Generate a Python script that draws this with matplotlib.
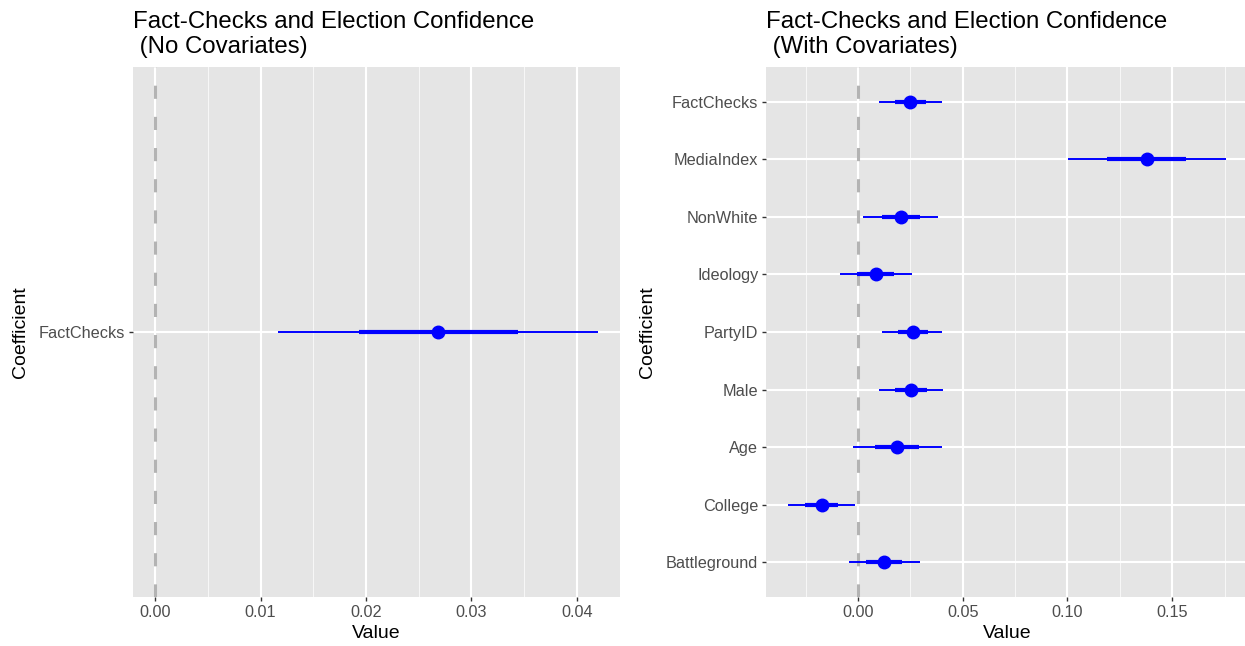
import numpy as np
import matplotlib
matplotlib.use('Agg')
import matplotlib.pyplot as plt

plt.rcParams['font.family'] = ['Liberation Sans', 'DejaVu Sans']

# Left panel: FactChecks only
names_a = ['FactChecks']
est_a = [0.0268]
inner_lo_a = [0.0193]
inner_hi_a = [0.0344]
outer_lo_a = [0.0117]
outer_hi_a = [0.0420]

# Right panel: with covariates (top to bottom)
names_b = ['FactChecks', 'MediaIndex', 'NonWhite', 'Ideology', 'PartyID',
           'Male', 'Age', 'College', 'Battleground']
est_b = [0.0250, 0.1378, 0.0205, 0.0084, 0.0261, 0.0255, 0.0186, -0.0174, 0.0124]
inner_lo_b = [0.0176, 0.1189, 0.0115, -0.0003, 0.0190, 0.0179, 0.0080, -0.0254, 0.0039]
inner_hi_b = [0.0325, 0.1567, 0.0295, 0.0171, 0.0332, 0.0331, 0.0292, -0.0094, 0.0209]
outer_lo_b = [0.0101, 0.1003, 0.0024, -0.0087, 0.0117, 0.0101, -0.0024, -0.0334, -0.0045]
outer_hi_b = [0.0401, 0.1757, 0.0384, 0.0258, 0.0401, 0.0406, 0.0399, -0.0014, 0.0296]

W, H = 1245, 646
fig = plt.figure(figsize=(W / 100, H / 100), dpi=100)
ax1 = fig.add_axes([133 / W, 1 - 597 / H, (620 - 133) / W, 530 / H])
ax2 = fig.add_axes([766 / W, 1 - 597 / H, (1248 - 766) / W, 530 / H])

def style(ax, xmajor, xminor):
    ax.set_facecolor('#E5E5E5')
    for s in ax.spines.values():
        s.set_visible(False)
    ax.set_xticks(xmajor)
    ax.set_xticks(xminor, minor=True)
    ax.grid(True, which='major', color='white', linewidth=1.5)
    ax.grid(True, which='minor', axis='x', color='#F7F7F7', linewidth=0.8)
    ax.set_axisbelow(True)
    ax.tick_params(which='major', length=3, width=1, color='#333333',
                   labelcolor='#4D4D4D', labelsize=11.7, pad=2.5)
    ax.tick_params(which='minor', length=0)
    ax.set_xlabel('Value', fontsize=14, labelpad=4)
    ax.set_ylabel('Coefficient', fontsize=14, labelpad=7)

def coefs(ax, names, est, ilo, ihi, olo, ohi):
    y = np.arange(len(names))[::-1]
    ax.axvline(0, color='#B3B3B3', linewidth=2.2, linestyle=(0, (4.3, 5.9)), zorder=1)
    ax.hlines(y, olo, ohi, color='blue', linewidth=1.4, zorder=2)
    ax.hlines(y, ilo, ihi, color='blue', linewidth=3.0, zorder=3)
    ax.plot(est, y, 'o', color='blue', markersize=9, zorder=4)
    ax.set_yticks(y)
    ax.set_yticklabels(names)
    ax.set_ylim(-0.6, len(names) - 0.4)

coefs(ax1, names_a, est_a, inner_lo_a, inner_hi_a, outer_lo_a, outer_hi_a)
style(ax1, [0, 0.01, 0.02, 0.03, 0.04], [0.005, 0.015, 0.025, 0.035])
ax1.set_xticklabels(['0.00', '0.01', '0.02', '0.03', '0.04'])
ax1.set_xlim(-0.0021, 0.0441)

coefs(ax2, names_b, est_b, inner_lo_b, inner_hi_b, outer_lo_b, outer_hi_b)
style(ax2, [0, 0.05, 0.10, 0.15], [-0.025, 0.025, 0.075, 0.125, 0.175])
ax2.set_xticklabels(['0.00', '0.05', '0.10', '0.15'])
ax2.set_xlim(-0.0439, 0.1862)

ax1.set_title('Fact-Checks and Election Confidence\n (No Covariates)',
              loc='left', fontsize=17.3, pad=10, linespacing=1.2)
ax2.set_title('Fact-Checks and Election Confidence\n (With Covariates)',
              loc='left', fontsize=17.3, pad=10, linespacing=1.2)

fig.savefig('out.png', dpi=100)
